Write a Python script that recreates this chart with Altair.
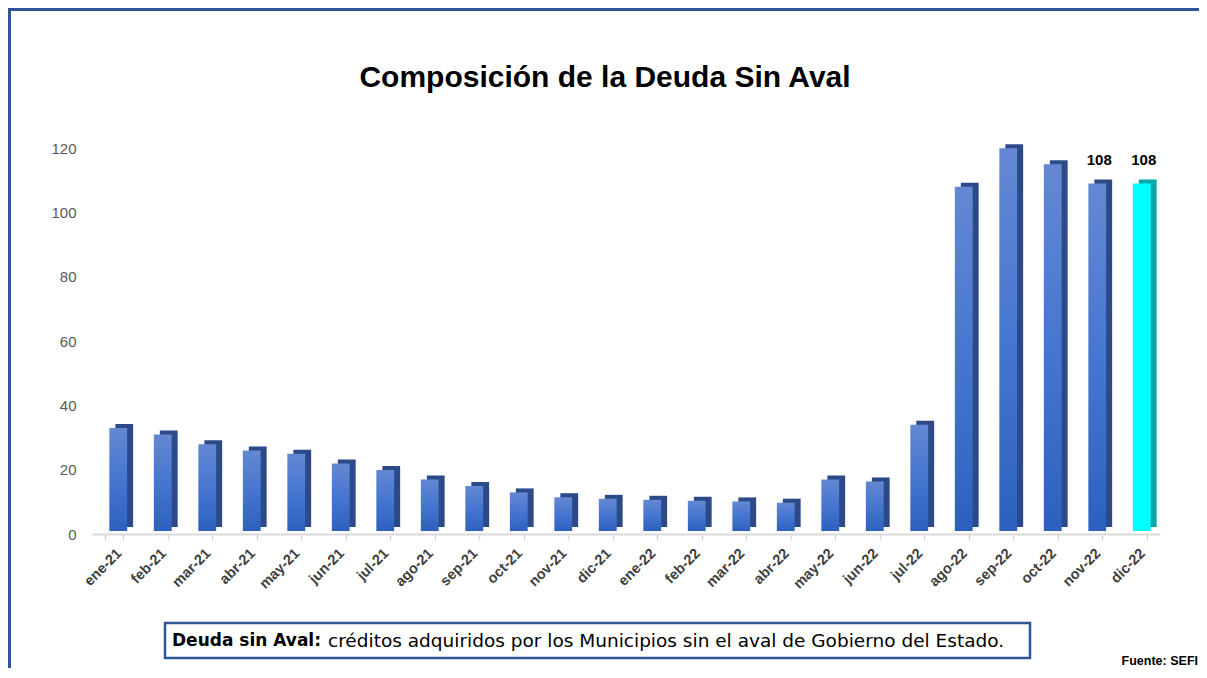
import altair as alt
import pandas as pd

months = ["ene-21", "feb-21", "mar-21", "abr-21", "may-21", "jun-21", "jul-21", "ago-21",
          "sep-21", "oct-21", "nov-21", "dic-21", "ene-22", "feb-22", "mar-22", "abr-22",
          "may-22", "jun-22", "jul-22", "ago-22", "sep-22", "oct-22", "nov-22", "dic-22"]
values = [32, 30, 27, 25, 24, 21, 19, 16, 14, 12, 10.5, 10, 9.7, 9.4, 9.2, 8.8,
          16, 15.4, 33, 107, 119, 114, 108, 108]
labels = [""] * 22 + ["108", "108"]
highlight = [False] * 23 + [True]

df = pd.DataFrame({"month": months, "value": values, "label": labels, "hl": highlight})

FONT = "Liberation Sans"
NOTE_FONT = "DejaVu Sans"
W, H = 1068, 386
BLUE_FRAME = "#2F5597"

x_enc = alt.X("month:N", sort=months,
              scale=alt.Scale(paddingInner=0.6, paddingOuter=0.3),
              axis=alt.Axis(title=None, labelAngle=-45, labelFontWeight="bold",
                            labelFontSize=14.5, labelColor="#404040", labelFont=FONT,
                            tickBand="extent", domainColor="#D9D9D9", domainWidth=2,
                            tickColor="#D9D9D9", tickSize=6, tickWidth=1.5,
                            labelPadding=6))
y_enc = alt.Y("value:Q", scale=alt.Scale(domain=[0, 120], nice=False),
              axis=alt.Axis(title=None, values=[0, 20, 40, 60, 80, 100, 120],
                            domain=False, ticks=False, grid=False, labelFontSize=15,
                            labelColor="#595959", labelFont=FONT, labelPadding=16))

base = alt.Chart(df)

front_grad = alt.Gradient(gradient="linear",
                          stops=[alt.GradientStop(color="#6488D2", offset=0),
                                 alt.GradientStop(color="#4676D0", offset=0.5),
                                 alt.GradientStop(color="#2D60BE", offset=1)],
                          x1=0, x2=0, y1=0, y2=1)

back_blue = base.transform_filter("!datum.hl").mark_bar(
    color="#2C4A88", xOffset=10, yOffset=-7, clip=False
).encode(x=x_enc, y=y_enc)
front_blue = base.transform_filter("!datum.hl").mark_bar(
    color=front_grad, xOffset=4, yOffset=-3, clip=False
).encode(x=x_enc, y=y_enc)

back_cyan = base.transform_filter("datum.hl").mark_bar(
    color="#00A8A8", xOffset=10, yOffset=-7, clip=False
).encode(x=x_enc, y=y_enc)
front_cyan = base.transform_filter("datum.hl").mark_bar(
    color="#00FFFF", xOffset=4, yOffset=-3, clip=False
).encode(x=x_enc, y=y_enc)

text_labels = base.transform_filter("datum.label != ''").mark_text(
    font=FONT, fontSize=15, fontWeight="bold", color="#000000", dy=-27, dx=6
).encode(x=x_enc, y=y_enc, text="label:N")

one = alt.Chart(pd.DataFrame({"k": [1]}))

title = one.mark_text(text="Composición de la Deuda Sin Aval", font=FONT, fontSize=30,
                      fontWeight="bold", color="#000000", align="center",
                      baseline="middle").encode(x=alt.value(513), y=alt.value(-70))

box = one.mark_rect(fill="white", stroke=BLUE_FRAME, strokeWidth=2.5).encode(
    x=alt.value(73), x2=alt.value(938), y=alt.value(475), y2=alt.value(510))

note_bold = one.mark_text(text="Deuda sin Aval:", font=NOTE_FONT, fontSize=17,
                          fontWeight="bold", color="#000000", align="left",
                          baseline="middle").encode(x=alt.value(80), y=alt.value(493))
note_norm = one.mark_text(
    text="créditos adquiridos por los Municipios sin el aval de Gobierno del Estado.",
    font=NOTE_FONT, fontSize=18.5, color="#000000", align="left", baseline="middle"
).encode(x=alt.value(236), y=alt.value(493))

fuente = one.mark_text(text="Fuente: SEFI", font=FONT, fontSize=12.5, fontWeight="bold",
                       color="#000000", align="right", baseline="middle").encode(
    x=alt.value(1106), y=alt.value(513))

frame_top = one.mark_rule(color=BLUE_FRAME, strokeWidth=3).encode(
    x=alt.value(-83), x2=alt.value(1115), y=alt.value(-138.5))
frame_left = one.mark_rule(color=BLUE_FRAME, strokeWidth=3).encode(
    x=alt.value(-82.5), y=alt.value(-140), y2=alt.value(540))

chart = alt.layer(
    frame_top, frame_left, title,
    back_blue, front_blue, back_cyan, front_cyan, text_labels,
    box, note_bold, note_norm, fuente
).properties(
    width=W, height=H,
    autosize=alt.AutoSizeParams(type="none"),
    padding={"left": 84, "top": 140, "right": 39, "bottom": 134},
    background="white"
).configure_view(strokeWidth=0)

chart.save("out.html", embed_options={"renderer": "svg", "actions": False})
